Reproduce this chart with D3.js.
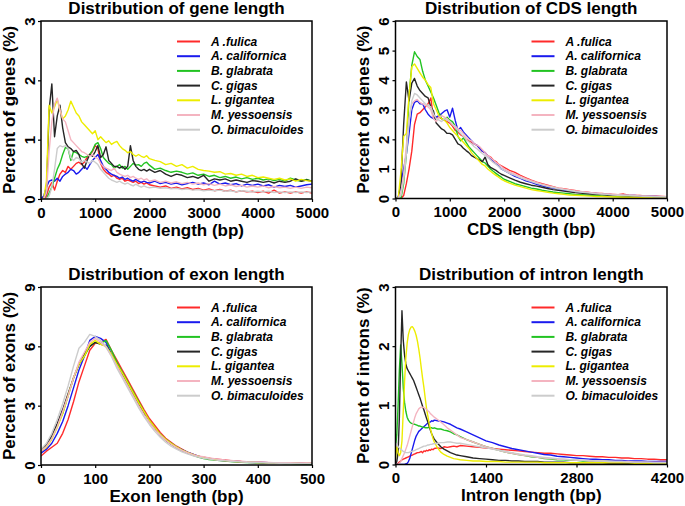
<!DOCTYPE html>
<html><head><meta charset="utf-8">
<script src="https://cdn.jsdelivr.net/npm/d3@7"></script>
<style>
html,body{margin:0;padding:0;background:#fff;}
svg{display:block;font-family:"Liberation Sans",Arial,Helvetica,sans-serif;}
</style></head>
<body>
<svg id="chart" width="685" height="506"></svg>
<script>
// ---------------- data ----------------
const species = ["A .fulica","A. californica","B. glabrata","C. gigas","L. gigantea","M. yessoensis","O. bimaculoides"];
const speciesColors = ["#ff2a2a","#1a1aee","#22c322","#262626","#eded00","#f4b4c0","#cccccc"];

const binX5000 = [0,50,100,150,200,250,300,350,400,450,500,550,600,650,700,750,800,850,900,950,1000,1050,1100,1150,1200,1250,1300,1350,1400,1450,1500,1550,1600,1650,1700,1750,1800,1850,1900,1950,2000,
 2100,2200,2300,2400,2500,2600,2700,2800,2900,3000,3100,3200,3300,3400,3500,3600,3700,3800,3900,4000,4100,4200,4300,4400,4500,4600,4700,4800,4900,5000];

const geneRed = [0,0,0.05,0.2,0.28,0.15,0.3,0.42,0.48,0.45, 0.55,0.5,0.55,0.6,0.62,0.58,0.62,0.7,0.75,0.8, 0.9,0.85,0.6,0.5,0.45,0.42,0.38,0.4,0.35,0.33, 0.35,0.3,0.32,0.3,0.28,0.3,0.26,0.28,0.25,0.27,0.24,
 0.22,0.2,0.22,0.18,0.2,0.17,0.19,0.16,0.18,0.15,0.17,0.14,0.16,0.13,0.15,0.12,0.14,0.12,0.13,0.11,0.13,0.1,0.15,0.1,0.12,0.1,0.12,0.1,0.12,0.1];
const geneBlue = [0,0.05,0.2,0.3,0.32,0.3,0.35,0.3,0.38,0.42, 0.45,0.5,0.48,0.42,0.45,0.5,0.55,0.5,0.58,0.65, 0.7,0.75,0.65,0.55,0.5,0.45,0.42,0.4,0.38,0.35, 0.37,0.33,0.35,0.32,0.3,0.33,0.3,0.28,0.3,0.28,0.27,
 0.3,0.26,0.28,0.25,0.27,0.24,0.26,0.28,0.25,0.27,0.24,0.3,0.25,0.27,0.24,0.26,0.22,0.25,0.23,0.25,0.22,0.24,0.2,0.23,0.21,0.23,0.2,0.22,0.24,0.25];
const geneGreen = [0,0,0,0.1,0.2,0.35,0.5,0.6,0.75,0.87, 0.85,0.65,0.8,0.78,0.75,0.72,0.7,0.72,0.75,0.82, 0.92,0.95,0.85,0.7,0.65,0.6,0.58,0.52,0.55,0.58, 0.52,0.55,0.5,0.55,0.6,0.57,0.58,0.55,0.6,0.62,0.57,
 0.5,0.52,0.48,0.45,0.47,0.45,0.42,0.44,0.4,0.42,0.38,0.4,0.36,0.38,0.35,0.37,0.34,0.36,0.33,0.35,0.32,0.34,0.31,0.33,0.3,0.35,0.32,0.3,0.33,0.3];
const geneBlack = [0,0,0.1,1.5,1.94,1.05,1.4,1.58,1.2,0.95, 0.88,0.85,0.8,0.82,0.75,0.6,0.52,0.65,0.75,0.72, 0.8,0.9,0.7,0.75,0.88,0.65,0.6,0.55,0.55,0.52, 0.55,0.5,0.55,0.9,0.65,0.55,0.5,0.48,0.5,0.47,0.5,
 0.45,0.48,0.42,0.38,0.42,0.4,0.36,0.38,0.35,0.4,0.3,0.34,0.32,0.34,0.3,0.32,0.3,0.28,0.31,0.3,0.28,0.3,0.27,0.3,0.28,0.3,0.34,0.3,0.32,0.3];
const geneYellow = [0,0,0.3,1.58,1.45,1.55,1.68,1.5,1.35,1.4, 1.5,1.65,1.55,1.45,1.4,1.3,1.25,1.2,1.15,1.1, 1.15,1.0,1.05,1.0,0.95,0.98,0.92,0.95,0.97,0.9, 0.85,0.82,0.78,0.8,0.75,0.72,0.75,0.72,0.7,0.73,0.68,
 0.65,0.63,0.58,0.6,0.55,0.58,0.52,0.55,0.5,0.48,0.47,0.45,0.46,0.42,0.43,0.4,0.42,0.38,0.4,0.36,0.37,0.35,0.33,0.35,0.32,0.34,0.3,0.33,0.31,0.3];
const genePink = [0,0,0.1,0.8,1.3,1.6,1.7,1.5,1.35,1.3, 1.15,1.0,0.95,0.9,0.85,0.8,0.78,0.75,0.72,0.75, 0.7,0.68,0.6,0.55,0.52,0.5,0.48,0.52,0.45,0.42, 0.4,0.38,0.4,0.36,0.38,0.35,0.33,0.35,0.32,0.34,0.3,
 0.32,0.28,0.3,0.27,0.29,0.26,0.28,0.25,0.27,0.24,0.26,0.23,0.25,0.22,0.24,0.21,0.23,0.2,0.22,0.2,0.22,0.19,0.21,0.19,0.2,0.18,0.2,0.18,0.2,0.19];
const geneGray = [0,0,0,0.05,0.2,0.5,0.85,0.9,0.88,0.9, 0.85,0.7,0.65,0.7,0.68,0.62,0.65,0.62,0.6,0.65, 0.62,0.58,0.5,0.45,0.4,0.35,0.32,0.3,0.28,0.3, 0.27,0.25,0.27,0.24,0.22,0.25,0.22,0.2,0.22,0.2,0.19,
 0.2,0.18,0.19,0.17,0.18,0.16,0.17,0.15,0.16,0.14,0.15,0.14,0.15,0.13,0.14,0.12,0.14,0.13,0.12,0.13,0.12,0.13,0.11,0.12,0.11,0.12,0.11,0.12,0.11,0.12];

const cdsRed = [0,0,0,0.1,0.5,1.0,1.6,2.5,2.85,2.9, 3.0,3.1,3.2,3.4,2.7,2.75,2.75,2.7,2.65,2.6, 2.55,2.45,2.3,2.25,2.15,2.1,2.0,1.95,1.9,1.85, 1.8,1.7,1.6,1.55,1.45,1.4,1.3,1.25,1.15,1.1,1.05,
 0.95,0.88,0.78,0.7,0.62,0.55,0.5,0.45,0.4,0.35,0.33,0.3,0.27,0.24,0.22,0.2,0.18,0.17,0.15,0.14,0.13,0.15,0.11,0.1,0.1,0.09,0.08,0.08,0.07,0.06];
const cdsBlue = [0,0.05,0.5,1.0,1.5,2.2,3.0,3.25,3.3,3.2, 3.2,3.0,2.85,2.75,2.7,2.75,2.8,2.87,2.95,3.0, 2.75,3.05,2.64,2.3,2.4,2.25,2.15,2.05,1.95,1.85, 1.8,1.7,1.6,1.55,1.45,1.35,1.25,1.2,1.1,1.0,0.95,
 0.85,0.75,0.68,0.6,0.55,0.48,0.43,0.38,0.35,0.32,0.28,0.26,0.24,0.22,0.2,0.18,0.17,0.15,0.14,0.13,0.12,0.11,0.1,0.1,0.09,0.08,0.08,0.07,0.06,0.06];
const cdsGreen = [0,0,0,0.5,1.5,3.5,4.5,4.96,4.8,4.7, 4.3,4.0,3.8,3.6,3.4,3.15,2.9,2.7,2.65,2.75, 2.65,2.6,2.45,2.1,1.95,2.05,1.9,1.75,1.65,1.55, 1.45,1.35,1.25,1.2,1.1,1.0,0.92,0.85,0.78,0.72,0.65,
 0.58,0.5,0.45,0.4,0.35,0.32,0.28,0.25,0.22,0.2,0.18,0.16,0.14,0.13,0.12,0.11,0.1,0.09,0.08,0.08,0.07,0.06,0.06,0.05,0.05,0.05,0.04,0.04,0.04,0.03];
const cdsBlack = [0,0,0.5,2.5,3.94,3.3,3.9,4.06,3.8,3.65, 3.55,3.45,3.4,3.1,2.95,2.55,2.45,2.35,2.3,2.2, 2.2,2.15,2.0,1.85,1.8,1.7,1.62,1.55,1.45,1.4, 1.35,1.3,1.25,1.4,1.15,1.05,1.0,0.95,0.88,0.82,0.78,
 0.7,0.62,0.55,0.5,0.45,0.42,0.38,0.34,0.3,0.28,0.25,0.23,0.2,0.18,0.17,0.15,0.14,0.13,0.12,0.11,0.1,0.09,0.08,0.08,0.07,0.06,0.06,0.05,0.05,0.05];
const cdsYellow = [0,0,0.9,2.1,2.2,3.5,4.45,4.55,4.4,4.25, 4.1,4.0,3.85,3.75,3.2,3.0,2.8,2.7,2.65,2.55, 2.4,2.3,2.2,2.1,2.0,1.9,1.8,1.7,1.55,1.45, 1.35,1.25,1.15,1.1,1.0,0.92,0.85,0.78,0.72,0.65,0.6,
 0.52,0.45,0.4,0.35,0.3,0.27,0.24,0.21,0.18,0.16,0.14,0.12,0.11,0.1,0.09,0.08,0.07,0.07,0.06,0.05,0.05,0.04,0.04,0.04,0.03,0.03,0.03,0.02,0.02,0.02];
const cdsPink = [0,0,0.2,0.8,1.8,2.7,3.2,3.3,3.35,3.25, 3.2,3.15,3.1,3.0,2.7,2.6,2.75,2.8,2.75,2.7, 2.6,2.5,2.45,2.35,2.3,2.2,2.1,2.0,1.95,1.85, 1.8,1.75,1.65,1.55,1.45,1.38,1.3,1.22,1.15,1.08,1.0,
 0.9,0.82,0.75,0.67,0.6,0.54,0.48,0.43,0.39,0.35,0.32,0.29,0.26,0.24,0.22,0.2,0.18,0.16,0.15,0.14,0.13,0.12,0.11,0.1,0.09,0.09,0.08,0.07,0.07,0.06];
const cdsGray = [0,0,0.1,0.6,1.5,2.6,3.3,3.55,3.5,3.4, 3.3,3.2,3.15,3.1,2.85,2.7,2.65,2.6,2.7,2.65, 2.6,2.5,2.4,2.3,2.2,2.1,2.0,1.92,1.85,1.75, 1.68,1.6,1.52,1.45,1.38,1.3,1.22,1.15,1.08,1.0,0.95,
 0.85,0.78,0.7,0.63,0.57,0.51,0.46,0.41,0.37,0.33,0.3,0.27,0.24,0.22,0.2,0.18,0.16,0.15,0.14,0.12,0.11,0.1,0.1,0.09,0.08,0.07,0.07,0.06,0.06,0.05];

const exonX = [0,10,20,30,40,50,60,70,80,90,100,110,120,130,140,150,160,170,180,190,200,210,220,230,240,250,260,270,280,290,300,310,320,330,340,350,360,370,380,390,400,410,420,430,440,450,460,470,480,490,500];
const exonRed = [0.45,0.7,0.9,1.1,1.6,2.3,3.2,4.2,5.0,5.8, 6.15,6.2,6.35,5.8,5.3,4.8,4.3,3.8,3.3,2.8, 2.35,2.0,1.65,1.35,1.15,0.95,0.8,0.65,0.55,0.45, 0.4,0.35,0.3,0.28,0.25,0.22,0.2,0.18,0.17,0.15, 0.14,0.13,0.12,0.12,0.11,0.1,0.1,0.09,0.09,0.08,0.08];
const exonBlue = [0.6,0.8,1.1,1.6,2.2,3.0,3.9,4.8,5.5,6.3, 6.5,6.4,6.2,5.6,5.1,4.6,4.1,3.6,3.1,2.65, 2.2,1.85,1.55,1.3,1.1,0.92,0.78,0.65,0.55,0.45, 0.38,0.33,0.29,0.26,0.23,0.21,0.19,0.17,0.16,0.15, 0.14,0.13,0.12,0.11,0.11,0.1,0.1,0.09,0.09,0.08,0.08];
const exonGreen = [0.8,1.0,1.4,2.0,2.6,3.5,4.4,5.1,5.5,6.0, 6.2,6.15,6.3,5.8,5.2,4.7,4.2,3.7,3.2,2.7, 2.25,1.9,1.55,1.3,1.1,0.9,0.75,0.62,0.5,0.4, 0.33,0.28,0.25,0.22,0.2,0.18,0.16,0.14,0.13,0.12, 0.11,0.1,0.09,0.08,0.08,0.07,0.07,0.06,0.06,0.05,0.05];
const exonBlack = [0.7,1.0,1.5,2.1,2.8,3.6,4.4,5.1,5.6,6.0, 6.2,6.1,6.05,5.6,5.1,4.6,4.1,3.6,3.1,2.65, 2.2,1.85,1.5,1.25,1.05,0.88,0.73,0.6,0.5,0.42, 0.36,0.31,0.27,0.24,0.21,0.19,0.17,0.15,0.14,0.13, 0.12,0.11,0.1,0.1,0.09,0.09,0.08,0.08,0.07,0.07,0.07];
const exonYellow = [0.7,0.9,1.3,1.9,2.6,3.5,4.4,5.1,5.5,6.1, 6.3,6.1,6.0,5.6,5.1,4.65,4.15,3.65,3.15,2.7, 2.25,1.9,1.55,1.3,1.1,0.92,0.77,0.64,0.53,0.44, 0.37,0.32,0.28,0.25,0.22,0.2,0.18,0.16,0.15,0.14, 0.13,0.12,0.11,0.11,0.1,0.1,0.09,0.09,0.08,0.08,0.08];
const exonPink = [0.7,0.95,1.35,1.95,2.7,3.5,4.4,5.2,5.7,6.2, 6.4,6.2,5.95,5.5,5.0,4.5,4.0,3.5,3.0,2.55, 2.15,1.8,1.5,1.25,1.05,0.88,0.74,0.62,0.52,0.45, 0.42,0.36,0.32,0.28,0.25,0.23,0.21,0.19,0.17,0.16, 0.15,0.14,0.13,0.12,0.12,0.11,0.11,0.1,0.1,0.1,0.09];
const exonGray = [0.8,1.1,1.6,2.3,3.1,4.0,5.0,5.9,6.2,6.6, 6.5,6.3,6.0,5.5,4.9,4.4,3.9,3.4,2.9,2.45, 2.05,1.7,1.4,1.15,0.95,0.8,0.67,0.56,0.47,0.4, 0.34,0.3,0.26,0.23,0.21,0.19,0.17,0.15,0.14,0.13, 0.12,0.11,0.1,0.1,0.09,0.09,0.08,0.08,0.07,0.07,0.07];

const intronX = [0,20,40,60,80,100,120,140,160,180, 200,220,240,260,280,300,320,340,360,380, 400,420,440,460,480,500,520,540,560,580,600,
 650,700,750,800,850,900,950,1000,
 1100,1200,1300,1400,1500,1600,1700,1800,1900,2000,2100,2200,2300,2400,2500,2600,2700,2800,2900,3000,3100,3200,3300,3400,3500,3600,3700,3800,3900,4000,4100,4200];
const intronRed = [0,0,0.02,0.04,0.06,0.08,0.09,0.1,0.11,0.12, 0.13,0.14,0.15,0.16,0.17,0.18,0.19,0.2,0.2,0.21, 0.22,0.2,0.23,0.22,0.24,0.23,0.25,0.24,0.26,0.25,0.27,
 0.28,0.27,0.3,0.29,0.3,0.31,0.3,0.32,
 0.31,0.3,0.29,0.28,0.27,0.26,0.25,0.24,0.23,0.22,0.21,0.2,0.19,0.19,0.18,0.17,0.16,0.15,0.15,0.14,0.13,0.13,0.12,0.12,0.11,0.11,0.1,0.1,0.09,0.09,0.08,0.08];
const intronBlue = [0,0,0,0,0,0,0,0,0.01,0.02, 0.05,0.1,0.18,0.26,0.34,0.42,0.48,0.52,0.56,0.58, 0.6,0.62,0.64,0.66,0.68,0.7,0.71,0.72,0.74,0.73,0.75,
 0.74,0.73,0.72,0.7,0.68,0.65,0.62,0.6,
 0.55,0.5,0.45,0.4,0.37,0.33,0.3,0.27,0.25,0.23,0.21,0.19,0.17,0.16,0.14,0.13,0.12,0.11,0.1,0.09,0.09,0.08,0.08,0.07,0.07,0.06,0.06,0.06,0.05,0.05,0.05,0.05];
const intronGreen = [0.3,0.5,1.0,1.6,2.02,1.7,1.3,1.05,0.9,0.8, 0.75,0.72,0.7,0.69,0.68,0.68,0.67,0.66,0.65,0.65, 0.64,0.63,0.63,0.62,0.62,0.62,0.63,0.62,0.62,0.61,0.62,
 0.6,0.6,0.58,0.57,0.55,0.52,0.5,0.47,
 0.42,0.38,0.34,0.3,0.27,0.24,0.21,0.19,0.17,0.15,0.13,0.12,0.1,0.09,0.08,0.08,0.07,0.07,0.06,0.06,0.05,0.05,0.05,0.04,0.04,0.04,0.03,0.03,0.03,0.03,0.03,0.03];
const intronBlack = [0,0.05,0.2,0.8,1.8,2.6,2.1,1.85,1.7,1.62, 1.58,1.54,1.5,1.46,1.42,1.36,1.3,1.24,1.18,1.12, 1.05,0.98,0.92,0.85,0.78,0.72,0.65,0.58,0.52,0.47,0.43,
 0.36,0.3,0.26,0.23,0.2,0.18,0.16,0.15,
 0.13,0.11,0.1,0.09,0.08,0.07,0.07,0.06,0.06,0.05,0.05,0.05,0.04,0.04,0.04,0.04,0.03,0.03,0.03,0.03,0.03,0.03,0.02,0.02,0.02,0.02,0.02,0.02,0.02,0.02,0.02,0.02];
const intronYellow = [0.1,0.3,0.2,0.15,0.2,0.4,0.9,1.4,1.8,2.05, 2.2,2.28,2.32,2.33,2.3,2.25,2.18,2.08,1.95,1.8, 1.62,1.45,1.3,1.12,0.95,0.82,0.7,0.6,0.52,0.44,0.38,
 0.28,0.21,0.17,0.14,0.12,0.1,0.09,0.08,
 0.07,0.06,0.06,0.05,0.05,0.05,0.04,0.04,0.04,0.04,0.04,0.04,0.03,0.03,0.03,0.03,0.03,0.03,0.03,0.03,0.03,0.03,0.03,0.03,0.03,0.03,0.02,0.02,0.02,0.02,0.02,0.02];
const intronPink = [0,0,0,0.02,0.05,0.1,0.15,0.2,0.26,0.32, 0.4,0.48,0.56,0.64,0.72,0.8,0.86,0.9,0.94,0.96, 0.97,0.97,0.96,0.95,0.93,0.91,0.89,0.86,0.84,0.82,0.8,
 0.76,0.72,0.67,0.62,0.58,0.54,0.5,0.46,
 0.42,0.38,0.34,0.3,0.27,0.24,0.21,0.19,0.17,0.15,0.14,0.12,0.11,0.1,0.09,0.09,0.08,0.07,0.07,0.06,0.06,0.06,0.05,0.05,0.05,0.05,0.04,0.04,0.04,0.04,0.04,0.04];
const intronGray = [0.3,0.35,0.3,0.28,0.26,0.24,0.22,0.21,0.2,0.2, 0.2,0.21,0.22,0.22,0.23,0.24,0.25,0.26,0.27,0.28, 0.29,0.3,0.31,0.31,0.32,0.33,0.33,0.34,0.34,0.35,0.35,
 0.36,0.37,0.37,0.38,0.38,0.37,0.36,0.36,
 0.34,0.32,0.3,0.28,0.26,0.24,0.22,0.2,0.18,0.16,0.15,0.13,0.12,0.11,0.1,0.09,0.08,0.08,0.07,0.07,0.06,0.06,0.05,0.05,0.05,0.04,0.04,0.04,0.04,0.03,0.03,0.03];

const geneXTicks = [0,1000,2000,3000,4000,5000];
const exonXTicks = [0,100,200,300,400,500];
const intronXTicks = [0,1400,2800,4200];

const panels = [
  {title:"Distribution of gene length", xlab:"Gene length (bp)", ylab:"Percent of genes (%)",
   x:binX5000, xmax:5000, xticks:geneXTicks, ymax:3, yticks:[0,1,2,3],
   series:[geneRed,geneBlue,geneGreen,geneBlack,geneYellow,genePink,geneGray],
   box:{l:41,r:312,t:21,b:199}},
  {title:"Distribution of CDS length", xlab:"CDS length (bp)", ylab:"Percent of genes (%)",
   x:binX5000, xmax:5000, xticks:geneXTicks, ymax:6, yticks:[0,1,2,3,4,5,6],
   series:[cdsRed,cdsBlue,cdsGreen,cdsBlack,cdsYellow,cdsPink,cdsGray],
   box:{l:395.5,r:667,t:21,b:198.5}},
  {title:"Distribution of exon length", xlab:"Exon length (bp)", ylab:"Percent of exons (%)",
   x:exonX, xmax:500, xticks:exonXTicks, ymax:9, yticks:[0,3,6,9],
   series:[exonRed,exonBlue,exonGreen,exonBlack,exonYellow,exonPink,exonGray],
   box:{l:41,r:312,t:287,b:465}},
  {title:"Distribution of intron length", xlab:"Intron length (bp)", ylab:"Percent of introns (%)",
   x:intronX, xmax:4200, xticks:intronXTicks, ymax:3, yticks:[0,1,2,3],
   series:[intronRed,intronBlue,intronGreen,intronBlack,intronYellow,intronPink,intronGray],
   box:{l:395.5,r:667,t:287,b:464.5}}
];

// ---------------- drawing ----------------
const svg = d3.select("#chart");
panels.forEach((p,pi)=>{
  const b = p.box;
  const x = d3.scaleLinear().domain([0,p.xmax]).range([b.l,b.r]);
  const y = d3.scaleLinear().domain([0,p.ymax]).range([b.b,b.t]);
  const g = svg.append("g");
  const clipId = "clip"+pi;
  svg.append("clipPath").attr("id",clipId).append("rect")
    .attr("x",b.l).attr("y",b.t).attr("width",b.r-b.l).attr("height",b.b-b.t);

  // lines
  const line = d3.line().x((d,i)=>x(p.x[i])).y(d=>y(d));
  const lg = g.append("g").attr("clip-path",`url(#${clipId})`);
  p.series.forEach((s,si)=>{
    lg.append("path").datum(s).attr("d",line).attr("fill","none")
      .attr("stroke",speciesColors[si]).attr("stroke-width",1.4).attr("stroke-linejoin","round");
  });

  // axes
  const xa = d3.axisBottom(x).tickValues(p.xticks).tickSize(3).tickPadding(4).tickFormat(d3.format("d"));
  const xg = g.append("g").attr("transform",`translate(0,${b.b})`).call(xa);
  xg.select(".domain").remove();
  xg.selectAll("line").attr("stroke","#000").attr("stroke-width",1.2);
  xg.selectAll("text").attr("font-size",15).attr("font-weight","bold").attr("fill","#000")
    .attr("font-family","Liberation Sans, Arial, sans-serif").attr("dy",null).attr("y",null)
    .attr("dominant-baseline","central").attr("transform","translate(0,13)");

  const ya = d3.axisLeft(y).tickValues(p.yticks).tickSize(3).tickFormat(d3.format("d"));
  const yg = g.append("g").attr("transform",`translate(${b.l},0)`).call(ya);
  yg.select(".domain").remove();
  yg.selectAll("line").attr("stroke","#000").attr("stroke-width",1.2);
  yg.selectAll("text").attr("font-size",15).attr("font-weight","bold").attr("fill","#000")
    .attr("font-family","Liberation Sans, Arial, sans-serif")
    .attr("x",null).attr("dy",null).attr("text-anchor","middle").attr("dominant-baseline","central")
    .attr("transform","translate(-12,0) rotate(-90)");

  // box
  g.append("rect").attr("x",b.l).attr("y",b.t).attr("width",b.r-b.l).attr("height",b.b-b.t)
    .attr("fill","none").attr("stroke","#000").attr("stroke-width",1.5);

  // titles
  const cx = (b.l+b.r)/2;
  g.append("text").attr("x",cx).attr("y",b.t-13).attr("text-anchor","middle").attr("dominant-baseline","central")
    .attr("font-size",17).attr("font-weight","bold").text(p.title);
  g.append("text").attr("x",cx).attr("y",b.b+31).attr("text-anchor","middle").attr("dominant-baseline","central")
    .attr("font-size",17).attr("font-weight","bold").text(p.xlab);
  g.append("text").attr("transform",`translate(${b.l-32},${(b.t+b.b)/2}) rotate(-90)`)
    .attr("text-anchor","middle").attr("dominant-baseline","central")
    .attr("font-size",17).attr("font-weight","bold").text(p.ylab);

  // legend
  const leg = g.append("g");
  species.forEach((sp,si)=>{
    const ly = b.t + 20.5 + si*14.7;
    leg.append("line").attr("x1",b.l+136).attr("x2",b.l+159).attr("y1",ly).attr("y2",ly)
      .attr("stroke",speciesColors[si]).attr("stroke-width",2);
    leg.append("text").attr("x",b.l+170).attr("y",ly).attr("dominant-baseline","central")
      .attr("font-size",12).attr("font-weight","bold").attr("font-style","italic").text(sp);
  });
});
</script>
</body></html>
